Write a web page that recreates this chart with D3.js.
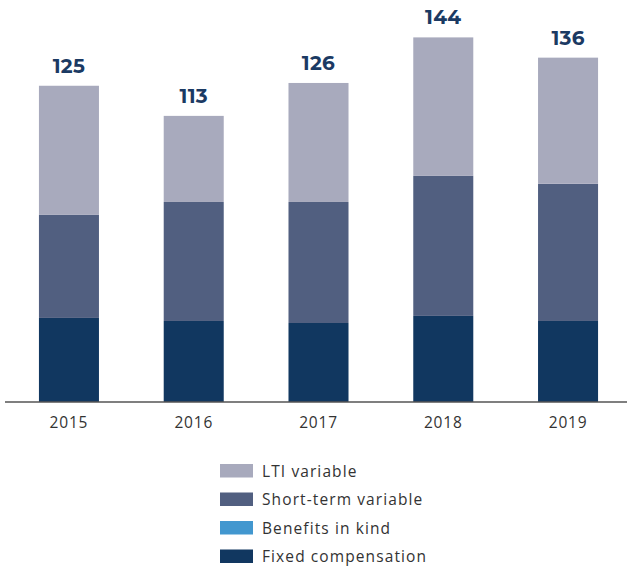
<!DOCTYPE html>
<html><head><meta charset="utf-8">
<script src="https://cdn.jsdelivr.net/npm/d3@7"></script>
<style>body{margin:0;background:#fff;}svg{display:block;}</style>
</head><body>
<svg id="chart" width="627" height="569"></svg>
<script>
const years = ["2015","2016","2017","2018","2019"];
const fixedComp = [33.2, 32.0, 31.2, 34.0, 32.0];
const benefitsInKind = [0, 0, 0, 0, 0];
const shortTerm = [40.7, 47.0, 47.8, 55.3, 54.2];
const ltiVariable = [51.0, 34.0, 47.0, 54.7, 49.8];
const totals = [125, 113, 126, 144, 136];

const seriesKeys = ["fixed","benefits","short","lti"];
const seriesNames = {lti:"LTI variable", short:"Short-term variable", benefits:"Benefits in kind", fixed:"Fixed compensation"};
const colors = {lti:"#a8aabd", short:"#515f80", benefits:"#4297cf", fixed:"#113760"};
const legendOrder = ["lti","short","benefits","fixed"];

const rows = years.map((y,i)=>({year:y, fixed:fixedComp[i], benefits:benefitsInKind[i], short:shortTerm[i], lti:ltiVariable[i], total:totals[i]}));

const svg = d3.select("#chart");
const baseY = 402;
const x = d3.scaleBand().domain(years).range([6.5, 630.5]).paddingInner(0.519).paddingOuter(0.26);
const y = d3.scaleLinear().domain([0, 144]).range([baseY, baseY - 144*2.532]);

const stack = d3.stack().keys(seriesKeys)(rows);
svg.append("g").selectAll("g").data(stack).join("g")
  .attr("fill", d => colors[d.key])
  .selectAll("rect").data(d => d).join("rect")
  .attr("x", d => x(d.data.year))
  .attr("width", x.bandwidth())
  .attr("y", d => y(d[1]))
  .attr("height", d => y(d[0]) - y(d[1]));

// totals
svg.append("g").selectAll("text").data(rows).join("text")
  .attr("x", d => x(d.year) + x.bandwidth()/2)
  .attr("y", d => y(d3.sum(seriesKeys, k => d[k])) - 13)
  .attr("text-anchor","middle")
  .attr("font-family","Montserrat, 'Open Sans', 'Noto Sans', sans-serif")
  .attr("font-weight","bold")
  .attr("font-size","20px")
  .attr("letter-spacing","0.3px")
  .attr("fill","#1b3a63")
  .text(d => d.total);

// axis
const axis = d3.axisBottom(x).tickSize(0).tickPadding(15);
const ag = svg.append("g").attr("transform",`translate(0,${baseY})`).call(axis);
ag.select(".domain").attr("stroke","#555").attr("stroke-width",1.5).attr("d","M5,0H627");
ag.selectAll("text").attr("font-family","'Open Sans', 'Noto Sans', sans-serif").attr("font-size","15.5px")
  .attr("letter-spacing","0.8px").attr("fill","#333");

// legend
const lg = svg.append("g").attr("transform","translate(220,464)");
legendOrder.forEach((k,i)=>{
  const g = lg.append("g").attr("transform",`translate(0,${i*28.5})`);
  g.append("rect").attr("width",33).attr("height",13.5).attr("fill",colors[k]);
  g.append("text").attr("x",42).attr("y",12.5)
    .attr("font-family","'Open Sans', 'Noto Sans', sans-serif").attr("font-size","15.5px")
    .attr("letter-spacing","1.1px").attr("fill","#333")
    .text(seriesNames[k]);
});
</script>
</body></html>
